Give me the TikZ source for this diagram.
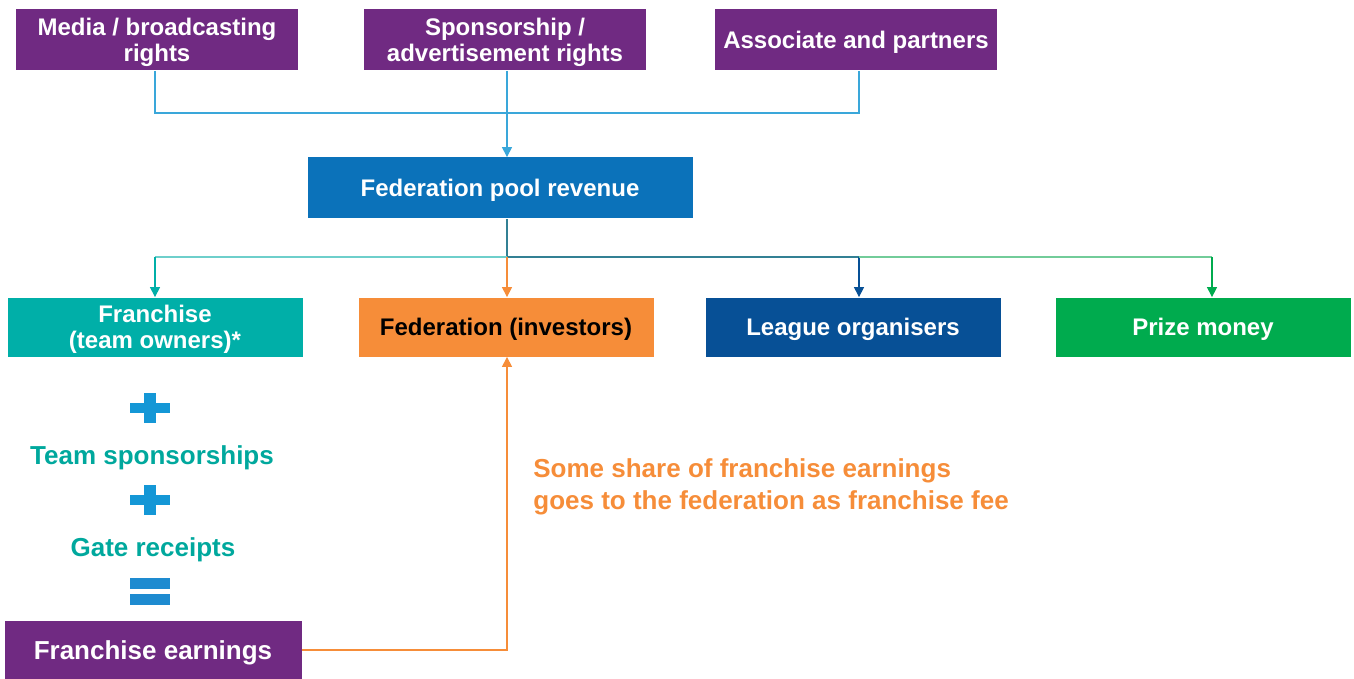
\documentclass[tikz,border=0pt]{standalone}
\usepackage{fontspec}
\setmainfont{Liberation Sans}
\usetikzlibrary{arrows.meta,positioning}
\definecolor{revPurple}{RGB}{112,42,130}
\definecolor{revBlue}{RGB}{11,114,186}
\definecolor{revTeal}{RGB}{0,175,168}
\definecolor{revTealText}{RGB}{0,168,157}
\definecolor{revOrange}{RGB}{246,141,57}
\definecolor{revNavy}{RGB}{7,80,150}
\definecolor{revGreen}{RGB}{0,171,78}
\definecolor{revSky}{RGB}{58,167,218}
\definecolor{revPlus}{RGB}{20,151,214}
\definecolor{revEq}{RGB}{30,139,208}
\definecolor{revDark}{RGB}{50,128,148}
\definecolor{revTealLine}{RGB}{110,207,203}
\definecolor{revGreenLine}{RGB}{114,204,153}

\begin{document}
\begin{tikzpicture}[x=0.5pt,y=-0.5pt,
  bx/.style={align=center,inner sep=0pt,text=white,minimum height=30.5pt,text depth=0pt,
    font=\bfseries\fontsize{12}{13}\selectfont},
  src/.style={bx,fill=revPurple,minimum width=141pt},
  share/.style={bx,minimum width=147.5pt,minimum height=29.5pt},
  sum/.style={text=revTealText,text depth=0pt,font=\bfseries\fontsize{13}{15}\selectfont},
  link/.style={line width=0.6pt},
  arrow/.style={link,-{Triangle[length=5pt,width=5pt]}}
]
  \useasboundingbox (0,0) rectangle (1354,679);
  % sources
  \node[src] (media) at (157,40) {Media / broadcasting\\rights};
  \node[src] (spons) at (505,40) {Sponsorship /\\advertisement rights};
  \node[src] (assoc) at (856,40) {Associate and partners};
  \node[bx,fill=revBlue,minimum width=192.5pt] (pool) at (500,188) {Federation pool revenue};
  % shares
  \node[share,fill=revTeal] (fran) at (155,327) {Franchise\\(team owners)*};
  \node[share,fill=revOrange,text=black] (fed) at (506,327) {Federation (investors)};
  \node[share,fill=revNavy] (league) at (853,327) {League organisers};
  \node[share,fill=revGreen] (prize) at (1203,327) {Prize money};
  % franchise sum
  \coordinate (plusA) at (150,408);
  \node[sum] (team) at (152,455) {Team sponsorships};
  \coordinate (plusB) at (150,500);
  \node[sum] (gate) at (153,547) {Gate receipts};
  \coordinate (eq) at (150,592);
  \node[bx,fill=revPurple,minimum width=148.5pt,minimum height=29pt,
    font=\bfseries\fontsize{13}{15}\selectfont] (earn) at (153,650) {Franchise earnings};
  \node[anchor=west,align=left,inner sep=0pt,text=revOrange,font=\bfseries\fontsize{13}{16}\selectfont]
    (note) at (533,487) {Some share of franchise earnings\\goes to the federation as franchise fee};

  \foreach \p in {plusA,plusB} {
    \fill[revPlus] ([shift={(-20,-5)}]\p) rectangle ([shift={(20,5)}]\p);
    \fill[revPlus] ([shift={(-6,-15)}]\p) rectangle ([shift={(6,15)}]\p);
  }
  \fill[revEq] ([shift={(-20,-14)}]eq) rectangle ([shift={(20,-3)}]eq);
  \fill[revEq] ([shift={(-20,2)}]eq) rectangle ([shift={(20,13)}]eq);

  % connectors
  \coordinate (top) at (507,113);
  \coordinate (mid) at (507,257);
  \coordinate (midL) at (859,257);
  \coordinate (midP) at (1212,257);
  \draw[link,revSky] ([xshift=-1pt]media.south) |- (top) -| ([xshift=1.5pt]assoc.south);
  \draw[arrow,revSky] (spons.south -| top) -- (pool.north -| top);
  \draw[link,revDark] (pool.south -| mid) -- (mid) -- (midL);
  \draw[link,revTealLine] (mid) -- (mid -| fran.north);
  \draw[arrow,revTeal] (mid -| fran.north) -- (fran.north);
  \draw[arrow,revOrange] (mid) -- (fed.north -| mid);
  \draw[arrow,revNavy] (midL) -- (fed.north -| midL);
  \draw[link,revGreenLine] (midL) -- (midP);
  \draw[arrow,revGreen] (midP) -- (prize.north -| midP);
  \draw[arrow,revOrange] (earn.east) -| (fed.south -| mid);
\end{tikzpicture}
\end{document}
